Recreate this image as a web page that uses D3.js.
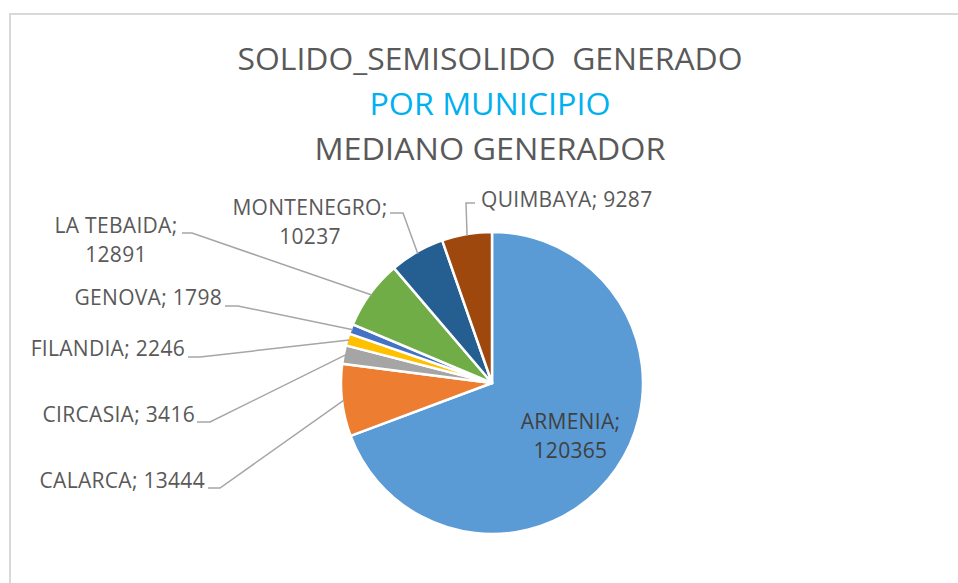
<!DOCTYPE html>
<html>
<head>
<meta charset="utf-8">
<script src="https://cdn.jsdelivr.net/npm/d3@7"></script>
<style>
  html, body { margin: 0; padding: 0; background: #ffffff; }
  svg { display: block; font-family: "Open Sans", "Noto Sans", sans-serif; }
  text { white-space: pre; }
</style>
</head>
<body>
<svg id="chart" width="958" height="583"></svg>
<script>
// ---- data ----
const municipios = ["ARMENIA", "CALARCA", "CIRCASIA", "FILANDIA", "GENOVA", "LA TEBAIDA", "MONTENEGRO", "QUIMBAYA"];
const valores = [120365, 13444, 3416, 2246, 1798, 12891, 10237, 9287];
const colores = ["#5B9BD5", "#ED7D31", "#A5A5A5", "#FFC000", "#4472C4", "#70AD47", "#255E91", "#9E480E"];
const tituloLineas = ["SOLIDO_SEMISOLIDO  GENERADO", "POR MUNICIPIO", "MEDIANO GENERADOR"];

// ---- layout (positions only) ----
const W = 958, H = 583;
const cx = 492, cy = 383, R = 151;
const titleY = [70, 115, 160];
const titleWidths = [505, 241, 351];
const titleColors = ["#595959", "#00B0F0", "#595959"];
// label placement: lines, anchor, x, first baseline, leader elbow [x1,x2,y]
const labelLayout = [
  { inside: true },
  { lines: 1, anchor: "end",    x: 205, y: 488, elbow: [208, 220, 488] },
  { lines: 1, anchor: "end",    x: 195, y: 422, elbow: [197, 210, 422] },
  { lines: 1, anchor: "end",    x: 185, y: 356, elbow: [188, 200, 357] },
  { lines: 1, anchor: "end",    x: 222, y: 305, elbow: [225, 238, 306] },
  { lines: 2, anchor: "middle", x: 116, y: 233, elbow: [182, 192, 233] },
  { lines: 2, anchor: "middle", x: 310, y: 215, elbow: [390, 403, 213] },
  { lines: 1, anchor: "start",  x: 481, y: 207, elbow: [475, 466, 203] }
];

const svg = d3.select("#chart");
svg.append("rect").attr("width", W).attr("height", H).attr("fill", "#ffffff");

// chart frame (top and left edges visible)
svg.append("line").attr("x1", 9).attr("x2", W).attr("y1", 14).attr("y2", 14)
  .attr("stroke", "#d9d9d9").attr("stroke-width", 2);
svg.append("line").attr("x1", 10).attr("x2", 10).attr("y1", 14).attr("y2", H)
  .attr("stroke", "#d9d9d9").attr("stroke-width", 2);

// title
tituloLineas.forEach((t, i) => {
  svg.append("text")
    .attr("x", 490).attr("y", titleY[i])
    .attr("text-anchor", "middle")
    .attr("font-size", 30.5)
    .attr("textLength", titleWidths[i])
    .attr("lengthAdjust", "spacingAndGlyphs")
    .attr("fill", titleColors[i])
    .text(t);
});

const data = municipios.map((m, i) => ({ name: m, value: valores[i], color: colores[i], layout: labelLayout[i] }));

const pie = d3.pie().sort(null).value(d => d.value);
const arcs = pie(data);
const arc = d3.arc().innerRadius(0).outerRadius(R);
const edgeArc = d3.arc().innerRadius(R - 2).outerRadius(R - 2);
const insideArc = d3.arc().innerRadius(40).outerRadius(R);

const g = svg.append("g").attr("transform", `translate(${cx},${cy})`);

g.selectAll("path.slice").data(arcs).join("path")
  .attr("class", "slice")
  .attr("d", arc)
  .attr("fill", d => d.data.color)
  .attr("stroke", "#ffffff")
  .attr("stroke-width", 2.5)
  .attr("stroke-linejoin", "round");

// leader lines
arcs.forEach(a => {
  const L = a.data.layout;
  if (L.inside) return;
  const [ex, ey] = edgeArc.centroid(a);
  const [x1, x2, y] = L.elbow;
  svg.append("polyline")
    .attr("points", `${x1},${y} ${x2},${y} ${cx + ex},${cy + ey}`)
    .attr("fill", "none")
    .attr("stroke", "#a6a6a6")
    .attr("stroke-width", 1.5);
});

// labels
const fs = 21;
arcs.forEach(a => {
  const L = a.data.layout;
  const txt = a.data.name + ";";
  const val = String(a.data.value);
  if (L.inside) {
    const [ix, iy] = insideArc.centroid(a);
    const t = svg.append("text")
      .attr("text-anchor", "middle")
      .attr("font-size", fs)
      .attr("letter-spacing", 0.3)
      .attr("fill", "#404040");
    t.append("tspan").attr("x", cx + ix).attr("y", cy + iy - 8).text(txt);
    t.append("tspan").attr("x", cx + ix).attr("y", cy + iy + 21).text(val);
    return;
  }
  const t = svg.append("text")
    .attr("text-anchor", L.anchor)
    .attr("font-size", fs)
    .attr("letter-spacing", 0.3)
    .attr("fill", "#595959");
  if (L.lines === 2) {
    t.append("tspan").attr("x", L.x).attr("y", L.y).text(txt);
    t.append("tspan").attr("x", L.x).attr("y", L.y + 29).text(val);
  } else {
    t.append("tspan").attr("x", L.x).attr("y", L.y).text(txt + " " + val);
  }
});
</script>
</body>
</html>
